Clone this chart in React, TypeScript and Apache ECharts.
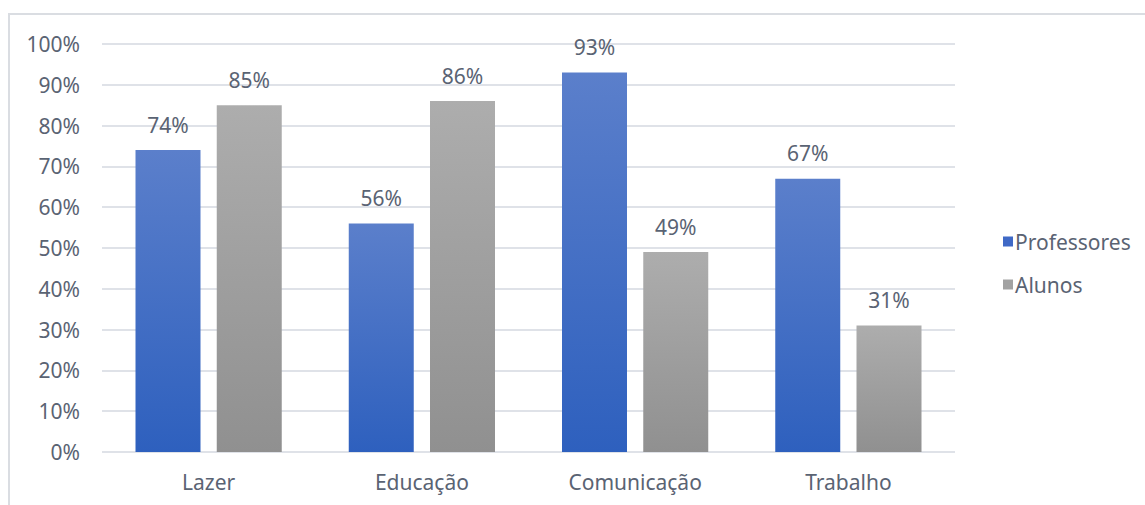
import React, { useEffect, useRef } from "react";
import * as echarts from "echarts";

const categories = ["Lazer", "Educação", "Comunicação", "Trabalho"];
const professores = [74, 56, 93, 67];
const alunos = [85, 86, 49, 31];
const seriesNames = ["Professores", "Alunos"];

const FONT = "'Noto Sans', 'Open Sans', sans-serif";
const TEXT = "#5a6373";
const FS = 21;

export default function App() {
  const ref = useRef<HTMLDivElement>(null);
  useEffect(() => {
    if (!ref.current) return;
    const chart = echarts.init(ref.current, undefined, { renderer: "svg" });
    const grad = (top: string, bottom: string) =>
      new echarts.graphic.LinearGradient(0, 0, 0, 1, [
        { offset: 0, color: top },
        { offset: 1, color: bottom },
      ]);
    const barLabel = {
      show: true,
      position: "top",
      distance: 15,
      formatter: "{c}%",
      fontFamily: FONT,
      fontSize: FS,
      color: TEXT,
    };
    chart.setOption({
      animation: false,
      backgroundColor: "#ffffff",
      textStyle: { fontFamily: FONT, color: TEXT },
      graphic: [
        {
          type: "rect",
          shape: { x: 9, y: 14, width: 1300, height: 700 },
          style: { fill: "none", stroke: "#dadde2", lineWidth: 2 },
          silent: true,
        },
      ],
      grid: { left: 102, right: 190, top: 44, bottom: 53, containLabel: false },
      legend: {
        orient: "vertical",
        left: 998,
        top: 226,
        itemWidth: 10,
        itemHeight: 10,
        itemGap: 22,
        icon: "rect",
        textStyle: { fontFamily: FONT, fontSize: FS, color: TEXT, padding: [0, 0, 0, -3] },
        data: [
          { name: seriesNames[0], itemStyle: { color: "#3f69c6" } },
          { name: seriesNames[1], itemStyle: { color: "#a2a2a2" } },
        ],
      },
      xAxis: {
        type: "category",
        data: categories,
        axisLine: { show: false },
        axisTick: { show: false },
        axisLabel: { fontFamily: FONT, fontSize: FS, color: TEXT, margin: 19 },
      },
      yAxis: {
        type: "value",
        min: 0,
        max: 100,
        interval: 10,
        axisLine: { show: false },
        axisTick: { show: false },
        axisLabel: {
          fontFamily: FONT,
          fontSize: FS,
          color: TEXT,
          margin: 22,
          formatter: "{value}%",
        },
        splitLine: { lineStyle: { color: "#dfe2e8", width: 2 } },
      },
      series: [
        {
          name: seriesNames[0],
          type: "bar",
          data: professores,
          barWidth: 65,
          barGap: "25%",
          itemStyle: { color: grad("#5b7fcb", "#2e60be") },
          label: barLabel,
        },
        {
          name: seriesNames[1],
          type: "bar",
          data: alunos,
          barWidth: 65,
          barGap: "25%",
          itemStyle: { color: grad("#adadad", "#909090") },
          label: barLabel,
        },
      ],
    });
    return () => chart.dispose();
  }, []);
  return (
    <div
      ref={ref}
      style={{ position: "fixed", left: 0, top: 0, width: 1145, height: 505 }}
    />
  );
}
